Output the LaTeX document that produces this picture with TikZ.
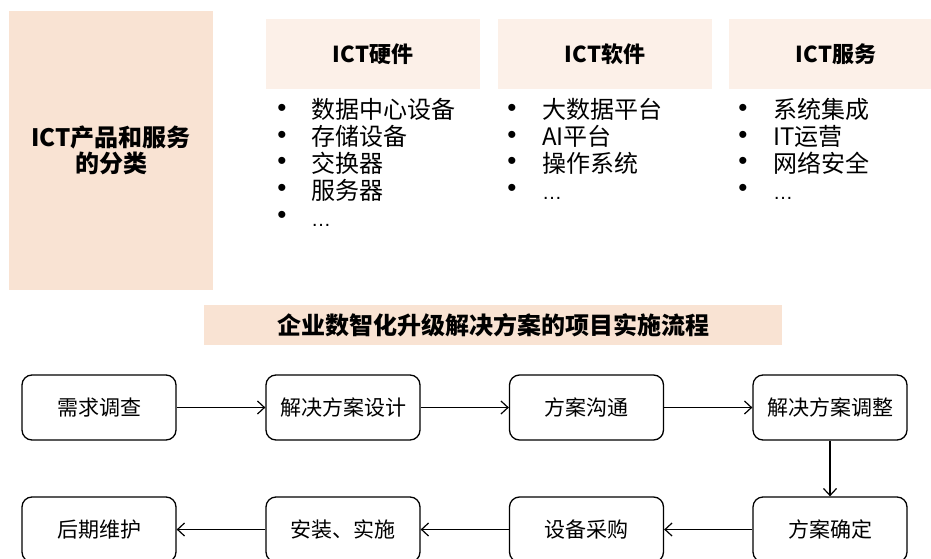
\documentclass[tikz,border=0pt]{standalone}
\usepackage{fontspec}
\setmainfont{Noto Sans CJK SC}
\newfontfamily\latinfont{Liberation Sans}
\usetikzlibrary{arrows.meta}
\definecolor{peach}{HTML}{F9E3D3}
\definecolor{lightpeach}{HTML}{FCF0E8}
\tikzset{
  hdr/.style={fill=lightpeach, minimum width=214pt, minimum height=70pt, inner sep=0pt,
    font=\bfseries\fontsize{22}{24}\selectfont},
  bul/.style={inner sep=0pt, font=\latinfont\fontsize{26}{28}\selectfont},
  item/.style={inner sep=0pt, anchor=west, text height=20pt, text depth=2pt,
    font=\fontsize{24}{26}\selectfont},
  dots/.style={inner sep=0pt, anchor=west, text height=20pt, text depth=2pt,
    font=\latinfont\fontsize{20}{22}\selectfont},
  flow/.style={draw, line width=1.3pt, rounded corners=10pt, minimum width=154pt,
    minimum height=65pt, inner sep=0pt, font=\fontsize{21}{23}\selectfont},
  arr/.style={line width=1.2pt, -{Straight Barb[length=7pt,width=13pt,line width=1.2pt]}}
}
\begin{document}
\begin{tikzpicture}[x=1pt,y=-1pt]
\useasboundingbox (0,0) rectangle (931,559);
% category box
\node[fill=peach, minimum width=204pt, minimum height=279pt, inner sep=0pt] (cat) at (111,150.5) {};
\node[align=center, font=\bfseries\fontsize{24}{26}\selectfont] (catlabel) at (cat.center) {ICT产品和服务\\的分类};
% headers
\node[hdr] (hw) at (373,54) {ICT硬件};
\node[hdr] (sw) at (605,54) {ICT软件};
\node[hdr] (sv) at (836,54) {ICT服务};
% hardware items
\node[bul] (hwb1) at (282,110) {•};
\node[bul] (hwb2) at (282,137) {•};
\node[bul] (hwb3) at (282,163) {•};
\node[bul] (hwb4) at (282,190) {•};
\node[bul] (hwb5) at (282,217) {•};
\node[item] (hwi1) at (311,110) {数据中心设备};
\node[item] (hwi2) at (311,137) {存储设备};
\node[item] (hwi3) at (311,163) {交换器};
\node[item] (hwi4) at (311,190) {服务器};
\node[dots] (hwi5) at (311,217) {…};
% software items
\node[bul] (swb1) at (512,110) {•};
\node[bul] (swb2) at (512,137) {•};
\node[bul] (swb3) at (512,163) {•};
\node[bul] (swb4) at (512,190) {•};
\node[item] (swi1) at (542,110) {大数据平台};
\node[item] (swi2) at (542,137) {AI平台};
\node[item] (swi3) at (542,163) {操作系统};
\node[dots] (swi4) at (542,190) {…};
% service items
\node[bul] (svb1) at (743,110) {•};
\node[bul] (svb2) at (743,137) {•};
\node[bul] (svb3) at (743,163) {•};
\node[bul] (svb4) at (743,190) {•};
\node[item] (svi1) at (773,110) {系统集成};
\node[item] (svi2) at (773,137) {IT运营};
\node[item] (svi3) at (773,163) {网络安全};
\node[dots] (svi4) at (773,190) {…};
% process title
\node[fill=peach, minimum width=578pt, minimum height=40pt, inner sep=0pt,
  font=\bfseries\fontsize{24}{26}\selectfont] (title) at (493,325) {企业数智化升级解决方案的项目实施流程};
% flow
\node[flow] (f1) at (99,407.5) {需求调查};
\node[flow] (f2) at (343,407.5) {解决方案设计};
\node[flow] (f3) at (586.5,407.5) {方案沟通};
\node[flow] (f4) at (830,407.5) {解决方案调整};
\node[flow] (f5) at (830,529.5) {方案确定};
\node[flow] (f6) at (586.5,529.5) {设备采购};
\node[flow] (f7) at (343,529.5) {安装、实施};
\node[flow] (f8) at (99,529.5) {后期维护};
\draw[arr] (f1) -- (f2);
\draw[arr] (f2) -- (f3);
\draw[arr] (f3) -- (f4);
\draw[arr] (f4) -- (f5);
\draw[arr] (f5) -- (f6);
\draw[arr] (f6) -- (f7);
\draw[arr] (f7) -- (f8);
\end{tikzpicture}
\end{document}
